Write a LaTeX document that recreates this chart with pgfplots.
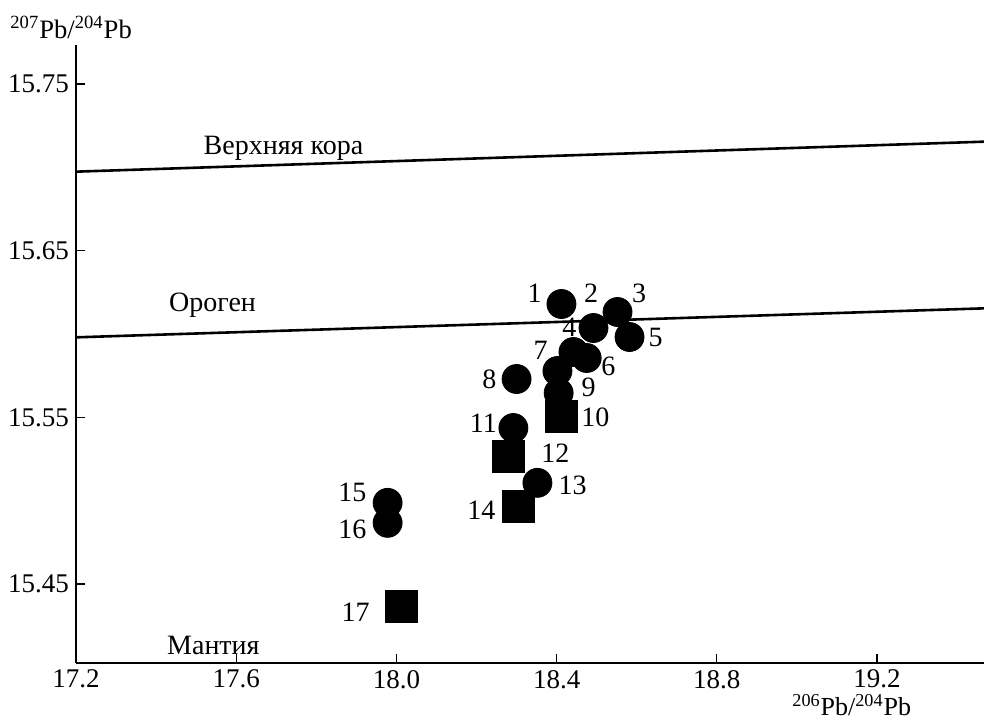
\documentclass[border=0pt]{standalone}
\usepackage{fontspec}
\setmainfont{Liberation Serif}
\usepackage{pgfplots}
\pgfplotsset{compat=1.18}

\begin{document}
\begin{tikzpicture}
\begin{axis}[
  scale only axis, width=454pt, height=309pt,
  xmin=17.2, xmax=19.467, ymin=15.4026, ymax=15.7734,
  axis x line*=bottom, axis y line*=left,
  axis line style={line width=0.8pt},
  tick align=inside, major tick length=4.5pt,
  tick style={black, line width=0.6pt},
  xtick={17.2,17.6,18.0,18.4,18.8,19.2},
  ytick={15.45,15.55,15.65,15.75},
  scaled ticks=false,
  xticklabel style={/pgf/number format/fixed, /pgf/number format/fixed zerofill, /pgf/number format/precision=1},
  yticklabel style={/pgf/number format/fixed, /pgf/number format/fixed zerofill, /pgf/number format/precision=2},
  /pgf/number format/assume math mode=true,
  tick label style={font=\fontsize{13.5}{15}\selectfont},
  clip=false,
]
% reference lines: upper crust and orogen
\addplot[black, line width=1.3pt] coordinates {(17.2,15.6974) (19.467,15.7154)};
\addplot[black, line width=1.3pt] coordinates {(17.2,15.5980) (19.467,15.6154)};

% samples, circles
\addplot[only marks, mark=*, mark size=7.25pt, black] coordinates {
  (18.412,15.6180)
  (18.552,15.6132)
  (18.492,15.6036)
  (18.582,15.5982)
  (18.442,15.5892)
  (18.475,15.5856)
  (18.402,15.5778)
  (18.405,15.5646)
  (18.300,15.5730)
  (18.292,15.5436)
  (18.352,15.5107)
  (17.978,15.4987)
  (17.978,15.4867)
};
% samples, squares
\addplot[only marks, mark=square*, mark size=8pt, black] coordinates {
  (18.412,15.5508)
  (18.280,15.5268)
  (18.305,15.4963)
  (18.013,15.4363)
};

% field names
\begin{scope}[every node/.style={font=\fontsize{14}{16}\selectfont}]
\node[anchor=base] at (axis cs:17.718,15.7074) {Верхняя кора};
\node[anchor=base] at (axis cs:17.541,15.6138) {Ороген};
\node[anchor=base] at (axis cs:17.543,15.4080) {Мантия};

% sample numbers
\node at (axis cs:18.345,15.6246) {1};
\node at (axis cs:18.486,15.6246) {2};
\node at (axis cs:18.606,15.6246) {3};
\node at (axis cs:18.432,15.6042) {4};
\node at (axis cs:18.647,15.5982) {5};
\node at (axis cs:18.529,15.5808) {6};
\node at (axis cs:18.360,15.5904) {7};
\node at (axis cs:18.232,15.5730) {8};
\node at (axis cs:18.480,15.5682) {9};
\node at (axis cs:18.497,15.5502) {10};
\node at (axis cs:18.217,15.5466) {11};
\node at (axis cs:18.397,15.5286) {12};
\node at (axis cs:18.440,15.5089) {13};
\node at (axis cs:18.212,15.4944) {14};
\node at (axis cs:17.890,15.5047) {15};
\node at (axis cs:17.890,15.4830) {16};
\node at (axis cs:17.898,15.4333) {17};
\end{scope}

% axis titles
\node[anchor=base west, xshift=-33pt, yshift=3pt, font=\fontsize{13.3}{15}\selectfont, inner sep=0pt]
  at (rel axis cs:0,1) {\textsuperscript{207}Pb/\textsuperscript{204}Pb};
\node[anchor=base west, xshift=358pt, yshift=-26pt, font=\fontsize{13}{15}\selectfont, inner sep=0pt]
  at (rel axis cs:0,0) {\textsuperscript{206}Pb/\textsuperscript{204}Pb};
\end{axis}
\pgfresetboundingbox
\path[use as bounding box] ([shift={(-38pt,-28.5pt)}]current axis.south west)
  rectangle ([shift={(0pt,22.5pt)}]current axis.north east);
\end{tikzpicture}
\end{document}
